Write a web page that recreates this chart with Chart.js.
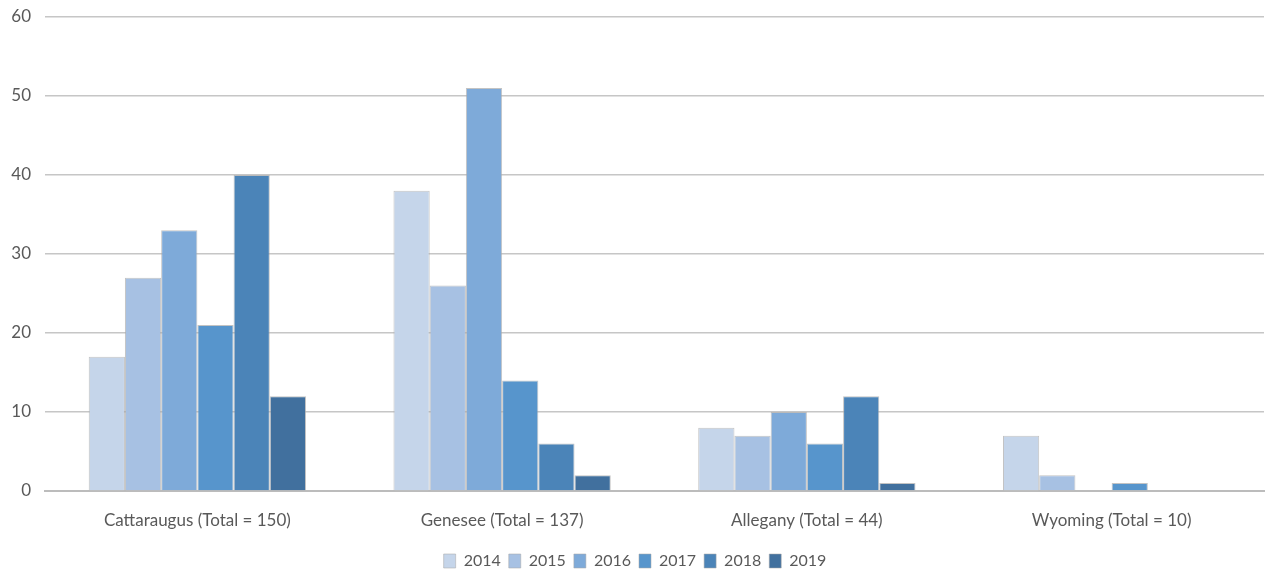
<!DOCTYPE html>
<html>
<head>
<meta charset="utf-8">
<script src="https://cdn.jsdelivr.net/npm/chart.js@4/dist/chart.umd.min.js"></script>
<style>
  html, body { margin: 0; padding: 0; background: #fff; overflow: hidden; }
  #wrap { width: 1270px; height: 573px; }
  canvas { display: block; }
</style>
</head>
<body>
<div id="wrap"><canvas id="c" width="1270" height="573"></canvas></div>
<script>
// Counties with their six-year totals
const categories = ['Cattaraugus (Total = 150)', 'Genesee (Total = 137)', 'Allegany (Total = 44)', 'Wyoming (Total = 10)'];
const years = ['2014', '2015', '2016', '2017', '2018', '2019'];

// Counts per county for each year
const v2014 = [17, 38, 8, 7];
const v2015 = [27, 26, 7, 2];
const v2016 = [33, 51, 10, 0];
const v2017 = [21, 14, 6, 1];
const v2018 = [40, 6, 12, 0];
const v2019 = [12, 2, 1, 0];

const yTicks = [0, 10, 20, 30, 40, 50, 60];

const seriesValues = [v2014, v2015, v2016, v2017, v2018, v2019];
const colors = ['#c5d5ea', '#a7c1e3', '#7eaad9', '#5795cc', '#4b84b8', '#41709e'];

const fontFamily = 'Lato, "Open Sans", "Liberation Sans", sans-serif';

new Chart(document.getElementById('c'), {
  type: 'bar',
  data: {
    labels: categories,
    datasets: years.map((y, i) => ({
      label: y,
      data: seriesValues[i],
      backgroundColor: colors[i],
      borderColor: 'rgba(170,170,170,0.7)',
      borderWidth: { top: 1, left: 1, right: 1, bottom: 0 },
      barPercentage: 1.0,
      categoryPercentage: 0.713
    }))
  },
  options: {
    responsive: false,
    animation: false,
    layout: { padding: { top: 0, right: 6, left: 6, bottom: -6 } },
    plugins: {
      legend: {
        position: 'bottom',
        labels: {
          boxWidth: 12,
          boxHeight: 14,
          padding: 8,
          color: '#595959',
          font: { family: fontFamily, size: 16 }
        }
      },
      tooltip: { enabled: false }
    },
    scales: {
      x: {
        afterFit: (axis) => { axis.height = 54; },
        grid: { display: false, drawTicks: false },
        border: { display: true, color: '#bcbcbc', width: 2 },
        ticks: { color: '#595959', font: { family: fontFamily, size: 17 }, padding: 19 }
      },
      y: {
        min: 0,
        max: 60,
        afterBuildTicks: (axis) => { axis.ticks = yTicks.map(v => ({ value: v })); },
        afterFit: (axis) => { axis.width = 39; axis.paddingTop = 17; axis.paddingBottom = 0; },
        grid: { color: '#c6c6c6', lineWidth: 1.5, drawTicks: false },
        border: { display: false },
        ticks: { color: '#595959', font: { family: fontFamily, size: 17 }, padding: 14 }
      }
    }
  }
});
</script>
</body>
</html>
